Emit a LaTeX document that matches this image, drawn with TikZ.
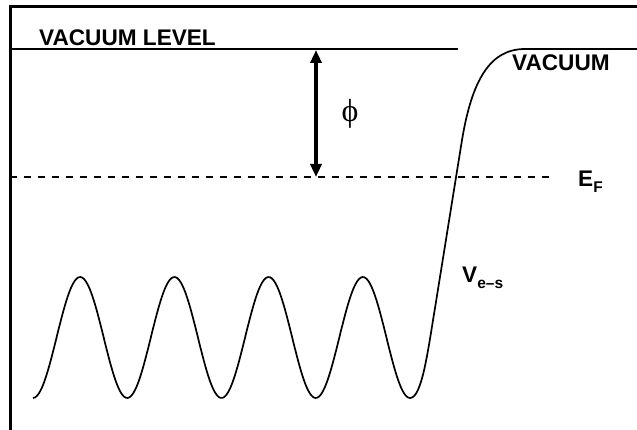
\documentclass[tikz,border=0pt]{standalone}
\usepackage{fontspec}
\setmainfont{Liberation Sans}
\newfontfamily\phifont{Liberation Serif}
\usetikzlibrary{arrows.meta}
\definecolor{levelline}{gray}{0.0}
\tikzset{
  frameline/.style={line width=3pt, levelline},
  levelpath/.style={line width=2pt, levelline},
  fermi/.style={line width=2pt, levelline, dash pattern=on 7pt off 7pt},
  potential/.style={line width=1.7pt, levelline, line join=round},
  lbl/.style={anchor=base west, inner sep=0pt, font=\bfseries\fontsize{22.6}{22.6}\selectfont},
}
\newcommand{\subtext}[1]{\raisebox{-6pt}{\fontsize{15.5}{15.5}\selectfont #1}}
\begin{document}
\begin{tikzpicture}[x=1pt, y=-1pt]
		\useasboundingbox (0,0) rectangle (637,430);
		
		% open frame
		\draw[frameline] (10,430) -- (10,7) -- (637,7);
		
		% vacuum level and Fermi level
		\coordinate (vacL) at (10,49);
		\coordinate (vacR) at (458,49);
		\coordinate (efL) at (10,177);
		\coordinate (efR) at (553,177);
		\draw[levelpath] (vacL) -- (vacR);
		\draw[fermi] (efL) -- (efR);
		
		% work function arrow
		\coordinate (phitop) at (316,50);
		\coordinate (phibot) at (316,177);
		\draw[line width=4pt, {Triangle[width=11pt,length=13pt]}-{Triangle[width=11pt,length=13pt]}] (phitop) -- (phibot);
		\node[inner sep=0pt, font=\phifont\fontsize{32}{32}\selectfont] (phi) at (350,114) {ϕ};
		
		% ionic potential and surface barrier
		\coordinate (wellend) at (410,398);
		\coordinate (barlow) at (435,308);
		\coordinate (barhigh) at (462,140);
		\coordinate (vactop) at (525,49);
		\draw[potential] plot[domain=33:410, samples=200, smooth] (\x, {337.5 + 60.5*cos((\x-33)/94.25*360)})
			.. controls (422,398) and (428,350) .. (barlow)
			-- (barhigh)
			.. controls (472,80) and (490,49) .. (vactop)
			-- (637,49);
		
		% labels
		\node[lbl] (vaclevel) at (39,46) {VACUUM LEVEL};
		\node[lbl] (vacuum) at (512,71) {VACUUM};
		\node[lbl] (ef) at (578,187) {E\subtext{F}};
		\node[lbl] (ves) at (462,283) {V\subtext{e–s}};
	\end{tikzpicture}
\end{document}
